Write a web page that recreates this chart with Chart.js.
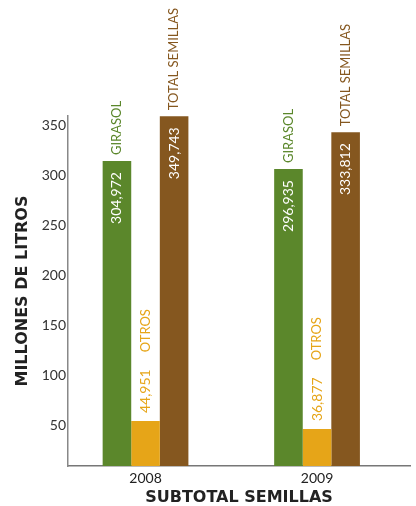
<!DOCTYPE html>
<html>
<head>
<meta charset="utf-8">
<script src="https://cdn.jsdelivr.net/npm/chart.js@4/dist/chart.umd.min.js"></script>
<style>
    html, body { margin: 0; padding: 0; background: #fff; }
    #wrap { width: 416px; height: 506px; }
</style>
</head>
<body>
<div id="wrap"><canvas id="chart"></canvas></div>
<script>
// Datos (millones de litros)
const years = ['2008', '2009'];
const seriesNames = ['GIRASOL', 'OTROS', 'TOTAL SEMILLAS'];
const girasol = [304.972, 296.935];
const otros = [44.951, 36.877];
const totalSemillas = [349.743, 333.812];
const yTicks = [50, 100, 150, 200, 250, 300, 350];

const barColors = ['#5b872b', '#e6a518', '#85571f'];
const textColors = ['#5b872b', '#e6a518', '#85571f'];
const FONT = 'Lato, "Open Sans", sans-serif';
const TITLE_FONT = '"DejaVu Sans", sans-serif';

const fmt = v => v.toFixed(3).replace('.', ',');

// Etiquetas rotadas sobre cada barra
const barLabels = {
    id: 'barLabels',
    afterDatasetsDraw: (chart) => {
        const ctx = chart.ctx;
        chart.data.datasets.forEach((ds, di) => {
            const meta = chart.getDatasetMeta(di);
            meta.data.forEach((bar, i) => {
                const value = ds.data[i].y;
                ctx.save();
                ctx.translate(bar.x, bar.y);
                ctx.rotate(-Math.PI / 2);
                ctx.textBaseline = 'middle';
                if (di === 1) {
                    // OTROS: valor y nombre fuera de la barra
                    ctx.fillStyle = textColors[di];
                    ctx.font = '14px ' + FONT;
                    ctx.textAlign = 'left';
                    const txt = fmt(value);
                    ctx.fillText(txt, 8, 0);
                    const w = ctx.measureText(txt).width;
                    ctx.font = '13px ' + FONT;
                    ctx.fillText(ds.label, 8 + w + 17, 0);
                } else {
                    ctx.fillStyle = '#ffffff';
                    ctx.font = '14px ' + FONT;
                    ctx.textAlign = 'right';
                    ctx.fillText(fmt(value), -11, 0);
                    ctx.fillStyle = textColors[di];
                    ctx.font = '13px ' + FONT;
                    ctx.textAlign = 'left';
                    ctx.fillText(ds.label, 6, 0);
                }
                ctx.restore();
            });
        });
    }
};

const makeData = (arr) => arr.map((v, i) => ({ x: Number(years[i]), y: v }));

new Chart(document.getElementById('chart'), {
    type: 'bar',
    data: {
        datasets: [
            { label: seriesNames[0], data: makeData(girasol), backgroundColor: barColors[0] },
            { label: seriesNames[1], data: makeData(otros), backgroundColor: barColors[1] },
            { label: seriesNames[2], data: makeData(totalSemillas), backgroundColor: barColors[2] }
        ]
    },
    options: {
        responsive: true,
        maintainAspectRatio: false,
        animation: false,
        categoryPercentage: 0.5,
        barPercentage: 1,
        layout: { padding: { top: 116, right: 6, bottom: 0, left: 0 } },
        plugins: {
            legend: { display: false },
            tooltip: { enabled: false }
        },
        scales: {
            x: {
                type: 'linear',
                offset: false,
                min: 2007.548,
                max: 2009.542,
                afterBuildTicks: (scale) => {
                    scale.ticks = years.map(y => ({ value: Number(y) }));
                },
                afterFit: (scale) => { scale.height = 40; },
                grid: { display: false, drawTicks: false },
                border: { display: true, color: '#777', width: 1.5 },
                ticks: {
                    padding: 4,
                    color: '#222',
                    font: { family: FONT, size: 14 },
                    callback: (v) => String(v)
                },
                title: {
                    display: true,
                    text: 'SUBTOTAL SEMILLAS',
                    color: '#222',
                    font: { family: TITLE_FONT, size: 16, weight: 'bold' },
                    padding: { top: 0, bottom: -1 }
                }
            },
            y: {
                min: 0,
                max: 350,
                afterBuildTicks: (scale) => {
                    scale.ticks = yTicks.map(v => ({ value: v }));
                },
                afterFit: (scale) => { scale.width = 68; },
                grid: { display: false, drawTicks: false },
                border: { display: true, color: '#888', width: 1.5 },
                ticks: {
                    padding: 2,
                    labelOffset: 9,
                    color: '#333',
                    font: { family: FONT, size: 14 }
                },
                title: {
                    display: true,
                    text: 'MILLONES DE LITROS',
                    color: '#222',
                    font: { family: TITLE_FONT, size: 16, weight: 'bold' },
                    padding: { top: 13, bottom: 0 }
                }
            }
        }
    },
    plugins: [barLabels]
});
</script>
</body>
</html>
